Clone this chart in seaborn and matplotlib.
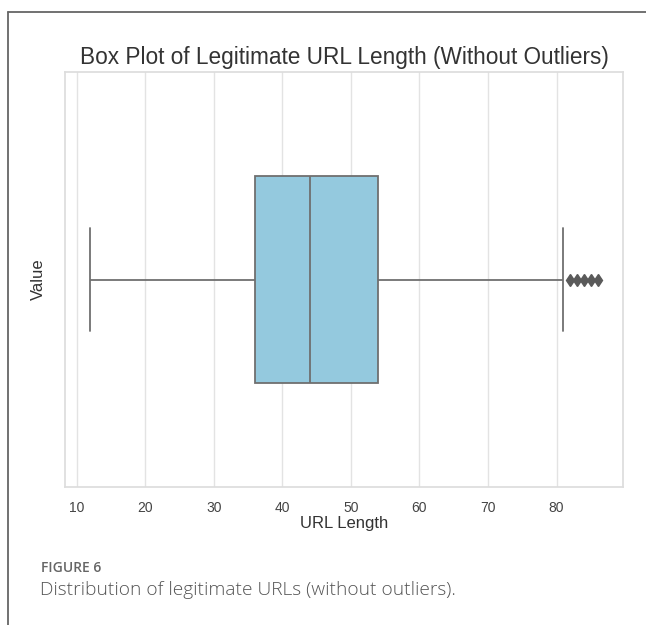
import matplotlib
matplotlib.use("Agg")
import matplotlib.pyplot as plt
from matplotlib.lines import Line2D
import numpy as np
import pandas as pd
import seaborn as sns

# URL lengths of legitimate URLs (sample summarising the distribution)
url_lengths = [12, 18, 24, 28, 31, 34, 36, 38, 39, 41, 42, 43, 44,
               45, 47, 48, 50, 52, 54, 81, 82, 83, 84, 85, 86]
x_ticks = [10, 20, 30, 40, 50, 60, 70, 80]

title_text = "Box Plot of Legitimate URL Length (Without Outliers)"
x_label = "URL Length"
y_label = "Value"
fig_label = "FIGURE 6"
caption = "Distribution of legitimate URLs (without outliers)."

df = pd.DataFrame({"URL Length": url_lengths})

sns.set_theme(style="whitegrid")
plt.rcParams["font.family"] = ["Liberation Sans", "DejaVu Sans"]

W, H = 646, 625
fig = plt.figure(figsize=(W / 100, H / 100), dpi=100)
ax = fig.add_axes([65 / W, 1 - 487 / H, (623 - 65) / W, (487 - 72) / H])

sns.boxplot(data=df, x="URL Length", color="skyblue", width=0.5,
            linewidth=1.3, ax=ax,
            flierprops=dict(marker="d", markerfacecolor="#5a5a5a",
                            markeredgecolor="#5a5a5a", markersize=6.5))

ax.set_xticks(x_ticks)
ax.set_yticks([])
ax.tick_params(axis="x", labelsize=10, colors="#444444", pad=4)
ax.set_xlabel(x_label, fontsize=12, color="#333333", labelpad=1)
ax.set_ylabel(y_label, fontsize=12, color="#333333", labelpad=14)
ax.set_title(title_text, fontsize=16.25, color="#333333", pad=6)
for s in ax.spines.values():
    s.set_color("#dddddd")
ax.grid(True, axis="x", color="#e3e3e3", linewidth=1)

# page frame around the figure
fig.add_artist(Line2D([8 / W, 1], [1 - 12 / H, 1 - 12 / H],
                      transform=fig.transFigure, color="#666666", lw=1.3))
fig.add_artist(Line2D([8 / W, 8 / W], [0, 1 - 12 / H],
                      transform=fig.transFigure, color="#666666", lw=1.3))

fig.text(41 / W, 1 - 568 / H, fig_label, fontsize=10, color="#666666",
         family=["Open Sans", "DejaVu Sans"], fontweight="semibold",
         va="center", ha="left")
fig.text(40 / W, 1 - 590 / H, caption, fontsize=13.8, color="#555555",
         family=["Open Sans", "DejaVu Sans"], fontweight="light",
         va="center", ha="left")

fig.savefig("out.png", dpi=100)
